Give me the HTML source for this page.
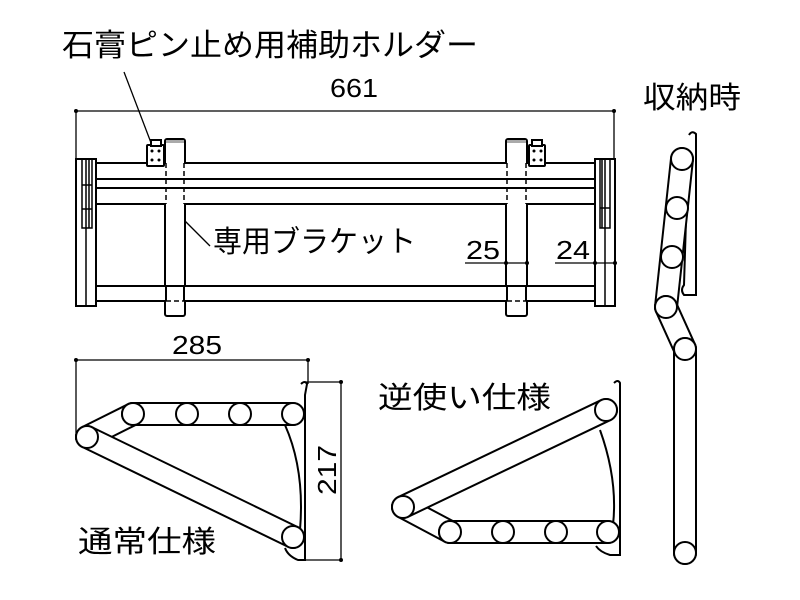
<!DOCTYPE html>
<html><head><meta charset="utf-8"><style>
html,body{margin:0;padding:0;background:#fff;}
svg{display:block;}
text{font-family:"Liberation Sans","Noto Sans CJK JP",sans-serif;fill:#000;}
</style></head><body>
<svg width="800" height="600" viewBox="0 0 800 600" xmlns="http://www.w3.org/2000/svg">
<defs>
<g id="dot"><circle r="2" fill="#000"/></g>
</defs>
<text x="62" y="56" font-size="31" textLength="416" lengthAdjust="spacingAndGlyphs">石膏ピン止め用補助ホルダー</text>
<text x="330" y="97" font-size="26" textLength="48" lengthAdjust="spacingAndGlyphs">661</text>
<text x="643" y="108" font-size="30" textLength="98" lengthAdjust="spacingAndGlyphs">収納時</text>
<text x="213" y="252" font-size="30" textLength="203" lengthAdjust="spacingAndGlyphs">専用ブラケット</text>
<text x="466" y="259" font-size="26" textLength="34" lengthAdjust="spacingAndGlyphs">25</text>
<text x="556" y="259" font-size="26" textLength="34" lengthAdjust="spacingAndGlyphs">24</text>
<text x="172" y="354" font-size="26" textLength="50" lengthAdjust="spacingAndGlyphs">285</text>
<text x="378" y="408" font-size="30" textLength="173" lengthAdjust="spacingAndGlyphs">逆使い仕様</text>
<text x="78" y="552" font-size="30" textLength="138" lengthAdjust="spacingAndGlyphs">通常仕様</text>
<text transform="translate(336,470) rotate(-90)" x="-25" y="0" font-size="26" textLength="50" lengthAdjust="spacingAndGlyphs">217</text>

<g stroke="#000" fill="none" stroke-width="1.3">
<line x1="124" y1="72" x2="153" y2="148"/>
<line x1="180" y1="216" x2="210" y2="246"/>
<line x1="76" y1="111" x2="614" y2="111"/>
<line x1="76" y1="111" x2="76" y2="158"/>
<line x1="614" y1="111" x2="614" y2="158"/>
</g>
<use href="#dot" x="76" y="111"/><use href="#dot" x="614" y="111"/>

<!-- brackets (under rails) -->
<g stroke="#000" stroke-width="2" fill="#fff">
<rect x="165" y="139" width="20" height="177" rx="2"/>
<rect x="506" y="139" width="21" height="177" rx="2"/>
</g>
<rect x="166" y="140" width="18" height="3" fill="#aaa"/>
<rect x="507" y="140" width="19" height="3" fill="#aaa"/>
<!-- hide bracket edges within rail zones -->
<g fill="#fff">
<rect x="163" y="164" width="24" height="39"/>
<rect x="504" y="164" width="25" height="39"/>
<rect x="163" y="287" width="24" height="13"/>
<rect x="504" y="287" width="25" height="13"/>
</g>
<g stroke="#000" stroke-width="1.5" stroke-dasharray="5,3">
<line x1="166" y1="163" x2="166" y2="204"/><line x1="184" y1="163" x2="184" y2="204"/>
<line x1="507" y1="163" x2="507" y2="204"/><line x1="526" y1="163" x2="526" y2="204"/>
<line x1="166" y1="301" x2="184" y2="301"/><line x1="507" y1="301" x2="526" y2="301"/>
</g>
<g stroke="#000" stroke-width="2">
<line x1="166" y1="286" x2="166" y2="301"/><line x1="184" y1="286" x2="184" y2="301"/>
<line x1="507" y1="286" x2="507" y2="301"/><line x1="526" y1="286" x2="526" y2="301"/>
</g>
<g stroke="#000" fill="none" stroke-width="2">
<line x1="96" y1="163" x2="165" y2="163"/><line x1="185" y1="163" x2="506" y2="163"/><line x1="527" y1="163" x2="595" y2="163"/>
<line x1="96" y1="179" x2="595" y2="179"/>
<line x1="96" y1="188" x2="595" y2="188"/>
<line x1="96" y1="204" x2="165" y2="204"/><line x1="185" y1="204" x2="506" y2="204"/><line x1="527" y1="204" x2="595" y2="204"/>
<line x1="96" y1="286" x2="595" y2="286"/>
<line x1="96" y1="301" x2="165" y2="301"/><line x1="185" y1="301" x2="506" y2="301"/><line x1="527" y1="301" x2="595" y2="301"/>
</g>
<g stroke="#000" stroke-width="2" fill="#fff">
<rect x="147" y="145" width="17" height="21" rx="1"/>
<rect x="151" y="140" width="10" height="6"/>
<rect x="529" y="145" width="16" height="21" rx="1"/>
<rect x="532" y="140" width="10" height="6"/>
<rect x="76" y="159" width="20" height="147"/>
<rect x="595" y="159" width="20" height="147"/>
</g>
<g stroke="#000" stroke-width="1.5" fill="none">
<rect x="82" y="159" width="10" height="69"/>
<rect x="600" y="159" width="10" height="69"/>
<line x1="86" y1="159" x2="86" y2="306"/><line x1="89" y1="159" x2="89" y2="228"/>
<line x1="82" y1="185" x2="92" y2="185"/><line x1="82" y1="209" x2="92" y2="209"/>
<line x1="605" y1="159" x2="605" y2="306"/><line x1="602" y1="159" x2="602" y2="228"/>
<line x1="600" y1="208" x2="610" y2="208"/>
</g>
<g fill="#000"><circle cx="152" cy="151" r="1.5"/><circle cx="159" cy="151" r="1.5"/><circle cx="152" cy="160" r="1.5"/><circle cx="159" cy="160" r="1.5"/>
<circle cx="534" cy="151" r="1.5"/><circle cx="541" cy="151" r="1.5"/><circle cx="534" cy="160" r="1.5"/><circle cx="541" cy="160" r="1.5"/></g>
<g stroke="#000" stroke-width="1.3">
<line x1="465" y1="263" x2="527" y2="263"/>
<line x1="555" y1="263" x2="615" y2="263"/>
</g>
<use href="#dot" x="506" y="263"/><use href="#dot" x="527" y="263"/>
<use href="#dot" x="595" y="263"/><use href="#dot" x="615" y="263"/>

<!-- 通常仕様 -->
<g stroke="#000" stroke-width="1.3" fill="none">
<line x1="76" y1="360" x2="308" y2="360"/>
<line x1="76" y1="360" x2="76" y2="440"/>
<line x1="308" y1="360" x2="308" y2="384"/>
<line x1="305" y1="382" x2="341" y2="382"/>
<line x1="305" y1="560" x2="341" y2="560"/>
<line x1="341" y1="382" x2="341" y2="560"/>
</g>
<use href="#dot" x="76" y="360"/><use href="#dot" x="308" y="360"/>
<use href="#dot" x="341" y="382"/><use href="#dot" x="341" y="560"/>
<g stroke="#000" stroke-width="2" fill="none">
<path d="M301 384 q4-4 6 0 L305 395 L305 560 L298 560 Q288 556 285 548"/>
<path d="M285 425 Q305 470 300 530"/>
</g>
<g stroke-linecap="round">
<line x1="133" y1="414" x2="87" y2="437" stroke="#000" stroke-width="24"/>
<line x1="133" y1="414" x2="87" y2="437" stroke="#fff" stroke-width="20"/>
<line x1="87" y1="437" x2="293" y2="537" stroke="#000" stroke-width="24"/>
<line x1="87" y1="437" x2="293" y2="537" stroke="#fff" stroke-width="20"/>
<line x1="133" y1="414" x2="293" y2="414" stroke="#000" stroke-width="24"/>
<line x1="133" y1="414" x2="293" y2="414" stroke="#fff" stroke-width="20"/>
</g>
<g stroke="#000" stroke-width="2" fill="#fff">
<circle cx="87" cy="437" r="11"/><circle cx="293" cy="537" r="11"/>
<circle cx="133" cy="414" r="11"/><circle cx="187" cy="414" r="11"/><circle cx="240" cy="414" r="11"/><circle cx="293" cy="414" r="11"/>
</g>

<!-- 逆使い仕様 -->
<g stroke="#000" stroke-width="2" fill="none">
<path d="M614 383 q4-4 6 0 L620 390 L620 555 L610 555 Q600 552 596 546"/>
<path d="M600 430 Q618 480 613 525"/>
</g>
<g stroke-linecap="round">
<line x1="403" y1="507" x2="450" y2="532" stroke="#000" stroke-width="24"/>
<line x1="403" y1="507" x2="450" y2="532" stroke="#fff" stroke-width="20"/>
<line x1="403" y1="507" x2="606" y2="410" stroke="#000" stroke-width="24"/>
<line x1="403" y1="507" x2="606" y2="410" stroke="#fff" stroke-width="20"/>
<line x1="450" y1="532" x2="608" y2="532" stroke="#000" stroke-width="24"/>
<line x1="450" y1="532" x2="608" y2="532" stroke="#fff" stroke-width="20"/>
</g>
<g stroke="#000" stroke-width="2" fill="#fff">
<circle cx="403" cy="507" r="11"/><circle cx="606" cy="410" r="11"/>
<circle cx="450" cy="532" r="11"/><circle cx="503" cy="532" r="11"/><circle cx="556" cy="532" r="11"/><circle cx="608" cy="532" r="11"/>
</g>

<!-- 収納時 -->
<g stroke="#000" stroke-width="2" fill="none">
<path d="M689 135 q3-5 7-1 L696 295 L684 295 Q680 290 684 285 L686 220"/>
</g>
<g stroke-linecap="round">
<line x1="682" y1="159" x2="666" y2="307" stroke="#000" stroke-width="24"/>
<line x1="682" y1="159" x2="666" y2="307" stroke="#fff" stroke-width="20"/>
<line x1="666" y1="307" x2="685" y2="349" stroke="#000" stroke-width="24"/>
<line x1="666" y1="307" x2="685" y2="349" stroke="#fff" stroke-width="20"/>
<line x1="685" y1="349" x2="685" y2="553" stroke="#000" stroke-width="24"/>
<line x1="685" y1="349" x2="685" y2="553" stroke="#fff" stroke-width="20"/>
</g>
<g stroke="#000" stroke-width="2" fill="#fff">
<circle cx="682" cy="159" r="11"/><circle cx="677" cy="208" r="11"/><circle cx="672" cy="257" r="11"/>
<circle cx="666" cy="307" r="11"/><circle cx="685" cy="349" r="11"/><circle cx="685" cy="553" r="11"/>
</g>
</svg>
</body></html>
